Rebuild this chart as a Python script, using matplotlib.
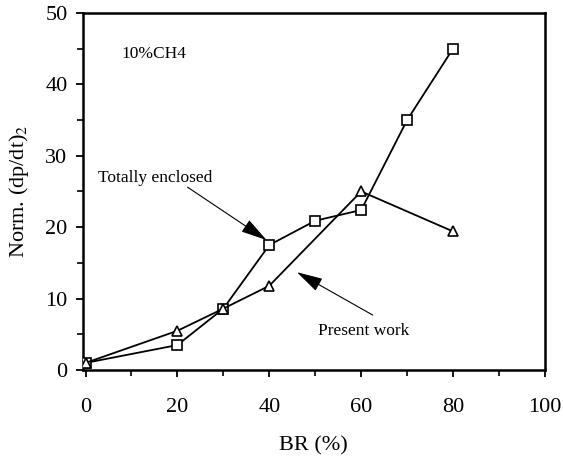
import matplotlib
matplotlib.use("Agg")
import matplotlib.pyplot as plt
from matplotlib.ticker import MultipleLocator

plt.rcParams['font.family'] = ['Liberation Serif', 'DejaVu Serif']
plt.rcParams['mathtext.fontset'] = 'stix'

br_enclosed = [0, 20, 30, 40, 50, 60, 70, 80]
dpdt_enclosed = [1.0, 3.5, 8.6, 17.5, 20.9, 22.4, 35.0, 45.0]
br_present = [0, 20, 30, 40, 60, 80]
dpdt_present = [1.0, 5.5, 8.6, 11.8, 25.0, 19.4]

fig = plt.figure(figsize=(5.63, 4.58), dpi=100)
ax = fig.add_axes([0.147, 0.192, 0.821, 0.78])

ax.plot(br_enclosed, dpdt_enclosed, color='black', lw=1.3, marker='s',
        ms=7, mfc='white', mec='black', mew=1.2, zorder=3)
ax.plot(br_present, dpdt_present, color='black', lw=1.3, marker='^',
        ms=7, mfc='white', mec='black', mew=1.2, zorder=3)

ax.set_xlim(-0.6, 100)
ax.set_ylim(0, 50)
ax.xaxis.set_major_locator(MultipleLocator(20))
ax.xaxis.set_minor_locator(MultipleLocator(10))
ax.yaxis.set_major_locator(MultipleLocator(10))
ax.yaxis.set_minor_locator(MultipleLocator(5))
ax.tick_params(which='major', direction='out', length=5, width=1.3, labelsize=16, pad=15)
ax.tick_params(which='minor', direction='out', length=4, width=1.2)
ax.tick_params(axis='y', which='major', pad=6)
for s in ax.spines.values():
    s.set_linewidth(1.8)

ax.set_xlabel('BR (%)', fontsize=16, labelpad=14)
ax.set_ylabel('Norm. (dp/dt)$_2$', fontsize=16, labelpad=10)

ax.text(7.8, 44.3, '10%CH4', fontsize=12.5, va='center', ha='left')
ax.text(2.8, 26.9, 'Totally enclosed', fontsize=12.5, va='center', ha='left')
ax.text(50.5, 5.5, 'Present work', fontsize=12.5, va='center', ha='left')

arrow = dict(arrowstyle='-|>,head_length=1.3,head_width=0.35',
             color='black', lw=0.8, shrinkA=0, shrinkB=0, mutation_scale=12.5)
ax.annotate('', xy=(39.4, 18.2), xytext=(22.2, 25.6), arrowprops=arrow)
ax.annotate('', xy=(46, 13.7), xytext=(62.5, 7.7), arrowprops=arrow)

fig.savefig('out.png', dpi=100)
